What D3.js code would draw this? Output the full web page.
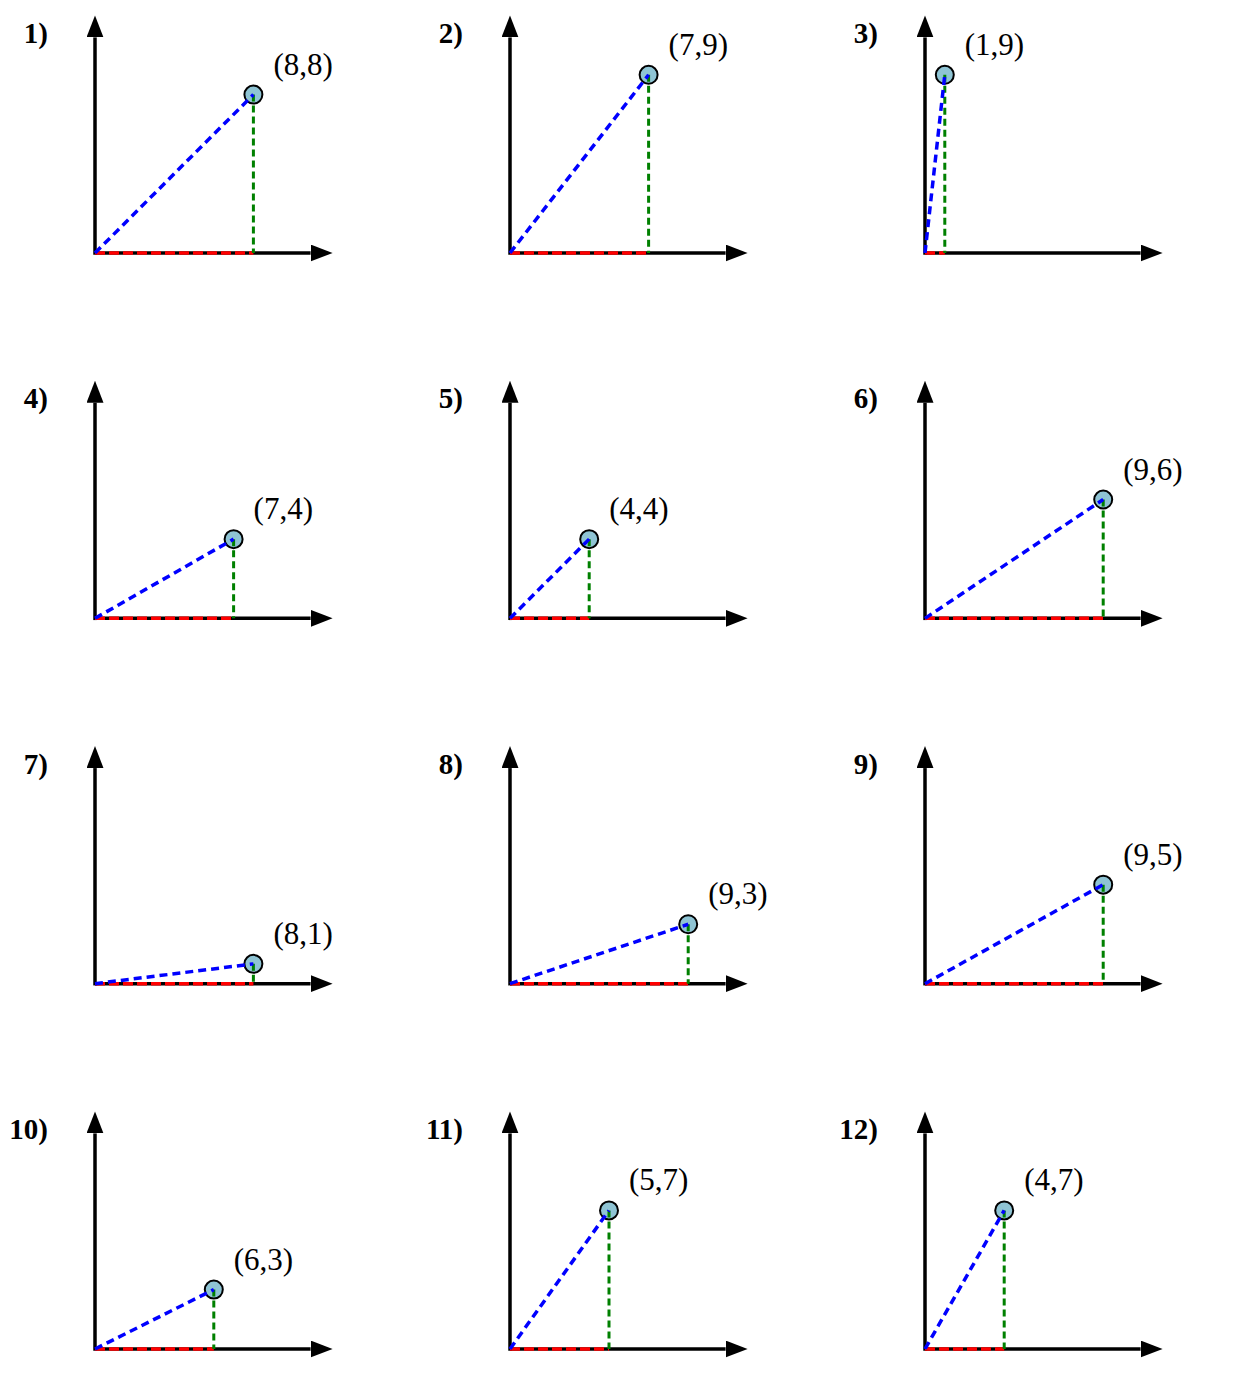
<!DOCTYPE html>
<html>
<head>
<meta charset="utf-8">
<script src="https://cdn.jsdelivr.net/npm/d3@7"></script>
<style>
  body { margin: 0; background: #fff; }
  text { font-family: "Liberation Serif", "Times New Roman", serif; }
</style>
</head>
<body>
<div id="chart"></div>
<script>
// data for each panel
var panelLabels = ["1)", "2)", "3)", "4)", "5)", "6)", "7)", "8)", "9)", "10)", "11)", "12)"];
var pointX = [8, 7, 1, 7, 4, 9, 8, 9, 9, 6, 5, 4];
var pointY = [8, 9, 9, 4, 4, 6, 1, 3, 5, 3, 7, 7];

var width = 1241;
var height = 1373;

var svg = d3.select("#chart").append("svg")
    .attr("width", width)
    .attr("height", height);

var defs = svg.append("defs");
defs.append("marker")
    .attr("id", "arrow")
    .attr("viewBox", "0 0 22 17")
    .attr("refX", 0)
    .attr("refY", 8.5)
    .attr("markerWidth", 22)
    .attr("markerHeight", 17)
    .attr("markerUnits", "userSpaceOnUse")
    .attr("orient", "auto")
    .append("path")
    .attr("d", "M0,0 L22,8.5 L0,17 Z")
    .attr("fill", "#000");

// panel grid (origins)
var colX = d3.scaleLinear().domain([0, 2]).range([95, 925]);
var rowY = d3.scaleLinear().domain([0, 3]).range([253, 1349]);

// unit scales inside one panel
var x = d3.scaleLinear().domain([0, 12]).range([0, 12 * 19.8]);
var y = d3.scaleLinear().domain([0, 12]).range([0, -12 * 19.8]);
var axisLen = 12; // in units, arrow tip near 238px

var panels = panelLabels.map(function (lab, i) {
    return { label: lab, px: pointX[i], py: pointY[i], col: i % 3, row: Math.floor(i / 3) };
});

var g = svg.selectAll("g.panel")
    .data(panels)
    .enter().append("g")
    .attr("class", "panel")
    .attr("transform", d => `translate(${colX(d.col)},${rowY(d.row)})`);

// axes
g.append("line")
    .attr("x1", 0).attr("y1", 0)
    .attr("x2", x(axisLen) - 22).attr("y2", 0)
    .attr("stroke", "#000")
    .attr("stroke-width", 3.5)
    .attr("marker-end", "url(#arrow)");

g.append("line")
    .attr("x1", 0).attr("y1", 1.75)
    .attr("x2", 0).attr("y2", y(axisLen) + 22)
    .attr("stroke", "#000")
    .attr("stroke-width", 3.5)
    .attr("marker-end", "url(#arrow)");

// panel label
g.append("text")
    .attr("x", -47)
    .attr("y", -210)
    .attr("text-anchor", "end")
    .attr("font-size", 29)
    .attr("font-weight", "bold")
    .text(d => d.label);

// point circle
g.append("circle")
    .attr("cx", d => x(d.px))
    .attr("cy", d => y(d.py))
    .attr("r", 9)
    .attr("fill", "#8fc4d4")
    .attr("stroke", "#000")
    .attr("stroke-width", 2);

// red along x axis
g.append("line")
    .attr("x1", 0).attr("y1", 0)
    .attr("x2", d => x(d.px)).attr("y2", 0)
    .attr("stroke", "#ff0000")
    .attr("stroke-width", 3.5)
    .attr("stroke-dasharray", "10,4");

// green vertical
g.append("line")
    .attr("x1", d => x(d.px)).attr("y1", d => y(d.py))
    .attr("x2", d => x(d.px)).attr("y2", 0)
    .attr("stroke", "#008000")
    .attr("stroke-width", 3)
    .attr("stroke-dasharray", "7,4");

// blue from origin
g.append("line")
    .attr("x1", 0).attr("y1", 0)
    .attr("x2", d => x(d.px)).attr("y2", d => y(d.py))
    .attr("stroke", "#0000ff")
    .attr("stroke-width", 3.5)
    .attr("stroke-dasharray", "8,5");

// coordinate label
g.append("text")
    .attr("x", d => x(d.px) + 20)
    .attr("y", d => y(d.py) - 20)
    .attr("font-size", 31)
    .text(d => `(${d.px},${d.py})`);
</script>
</body>
</html>
